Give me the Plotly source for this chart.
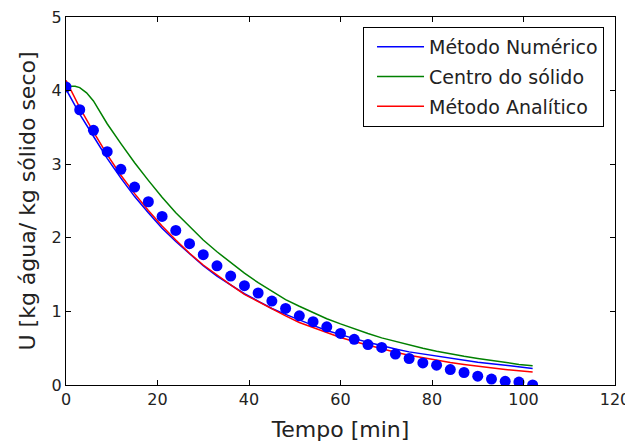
import plotly.graph_objects as go

# Time grid (min)
tempo = [0, 3, 6, 9, 12, 15, 18, 21, 24, 27, 30, 33, 36, 39, 42, 45, 48, 51, 54,
         57, 60, 63, 66, 69, 72, 75, 78, 81, 84, 87, 90, 93, 96, 99, 102]

# Experimental points
u_exp = [4.05, 3.74, 3.46, 3.17, 2.93, 2.69, 2.49, 2.29, 2.10, 1.92, 1.77, 1.62,
         1.48, 1.35, 1.25, 1.14, 1.04, 0.94, 0.86, 0.79, 0.70, 0.62, 0.55, 0.51,
         0.42, 0.36, 0.30, 0.27, 0.21, 0.17, 0.12, 0.08, 0.05, 0.04, 0.00]

# Método Numérico
u_num = [4.02, 3.68, 3.38, 3.08, 2.81, 2.56, 2.34, 2.13, 1.95, 1.78, 1.62, 1.48,
         1.36, 1.24, 1.14, 1.04, 0.96, 0.88, 0.81, 0.74, 0.68, 0.63, 0.58, 0.53,
         0.49, 0.45, 0.42, 0.39, 0.36, 0.33, 0.31, 0.29, 0.27, 0.25, 0.225]

# Centro do sólido (finer start)
tempo_centro = [0, 2, 3, 4.5, 6, 9, 12, 15, 18, 21, 24, 27, 30, 33, 36, 39, 42, 45,
                48, 51, 54, 57, 60, 63, 66, 69, 72, 75, 78, 81, 84, 87, 90, 93, 96,
                99, 102]
u_centro = [4.06, 4.06, 4.04, 3.97, 3.86, 3.55, 3.28, 3.02, 2.78, 2.55, 2.34, 2.15,
            1.97, 1.81, 1.66, 1.52, 1.39, 1.27, 1.16, 1.07, 0.98, 0.90, 0.83, 0.76,
            0.70, 0.64, 0.59, 0.54, 0.50, 0.46, 0.42, 0.39, 0.36, 0.33, 0.31, 0.28,
            0.26]

# Método Analítico
u_ana = [4.14, 3.77, 3.44, 3.13, 2.85, 2.60, 2.37, 2.16, 1.97, 1.79, 1.63, 1.49,
         1.36, 1.23, 1.13, 1.03, 0.94, 0.85, 0.78, 0.71, 0.646, 0.59, 0.54, 0.49,
         0.445, 0.405, 0.37, 0.337, 0.307, 0.28, 0.255, 0.232, 0.211, 0.192, 0.175]

x_ticks = [0, 20, 40, 60, 80, 100, 120]
y_ticks = [0, 1, 2, 3, 4, 5]

FONT = "DejaVu Sans"
TXT = "#222222"

fig = go.Figure()
fig.add_trace(go.Scatter(x=tempo, y=u_num, mode="lines", name="Método Numérico",
                         line=dict(color="#0000ff", width=1.5), legendgroup="a"))
fig.add_trace(go.Scatter(x=tempo_centro, y=u_centro, mode="lines", name="Centro do sólido",
                         line=dict(color="#008000", width=1.5), legendgroup="b"))
fig.add_trace(go.Scatter(x=tempo, y=u_ana, mode="lines", name="Método Analítico",
                         line=dict(color="#ff0000", width=1.5), legendgroup="c"))
fig.add_trace(go.Scatter(x=tempo, y=u_exp, mode="markers", showlegend=False,
                         marker=dict(color="#0000ff", size=11, line=dict(width=0))))

axis_common = dict(showline=True, linecolor="black", linewidth=1, mirror="ticks",
                   ticks="inside", ticklen=5, tickcolor="black", showgrid=False,
                   zeroline=False, automargin=False, ticklabeloverflow="allow",
                   tickfont=dict(family=FONT, size=16, color=TXT))

fig.update_xaxes(range=[0, 120], tickvals=x_ticks, ticktext=[str(v) for v in x_ticks],
                 title=dict(text="Tempo [min]", font=dict(family=FONT, size=22, color=TXT),
                            standoff=13),
                 **axis_common)
fig.update_yaxes(range=[0, 5], tickvals=y_ticks, ticktext=[str(v) for v in y_ticks],
                 title=dict(text="U [kg água/ kg sólido seco]",
                            font=dict(family=FONT, size=22, color=TXT), standoff=9),
                 **axis_common)

# page body adds an 8px offset; margins compensate so the plot area lands where it should
fig.update_layout(
    width=633, height=446,
    margin=dict(l=58, r=26, t=9, b=69),
    plot_bgcolor="white", paper_bgcolor="white",
    font=dict(family=FONT, color=TXT),
    legend=dict(x=0.98, y=0.973, xanchor="right", yanchor="top",
                bgcolor="white", bordercolor="black", borderwidth=1,
                font=dict(family=FONT, size=19, color=TXT),
                itemwidth=47, indentation=8,
                tracegroupgap=2, traceorder="grouped"),
)

fig.write_html("out.html")
